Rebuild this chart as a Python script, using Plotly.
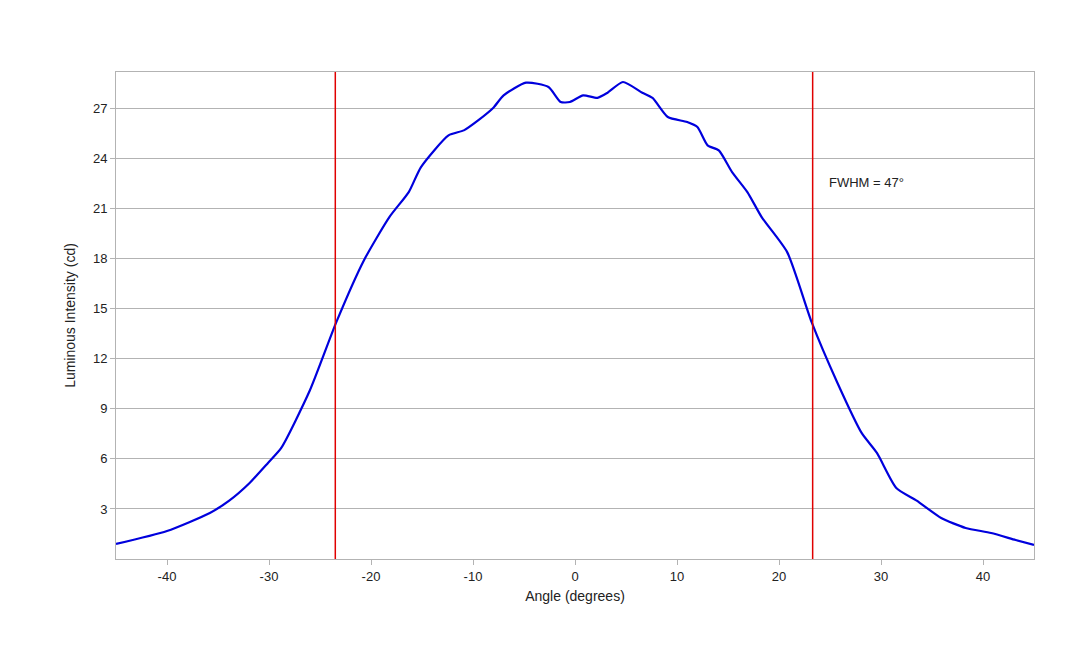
import plotly.graph_objects as go

angle = [-45,-40,-35.8,-33.9,-31.9,-30.1,-28.8,-26,-23.4,-20.7,-18.2,-16.3,-15.1,-12.4,-10.9,-9.5,-8,-7,-4.8,-2.6,-1.4,-0.5,0.8,2.2,3.2,4.7,6.6,7.6,9.1,11,12,13,14.1,15.4,16.9,18.3,20.8,23.2,25.7,28.1,29.6,31.5,33.5,35.9,38.3,40.8,43.2,45]
intensity = [0.9,1.68,2.76,3.5,4.56,5.76,6.66,10.1,14.2,17.9,20.5,22,23.5,25.4,25.7,26.3,27.06,27.8,28.56,28.3,27.4,27.4,27.8,27.65,27.96,28.6,27.96,27.65,26.5,26.2,25.9,24.8,24.5,23.2,22,20.5,18.4,14.2,10.6,7.56,6.36,4.26,3.5,2.46,1.86,1.56,1.14,0.84]
fwhm_lines = [-23.5, 23.3]
xticks = [-40,-30,-20,-10,0,10,20,30,40]
xticklabels = ["-40","-30","-20","-10","0","10","20","30","40"]
yticks = [3,6,9,12,15,18,21,24,27]

fig = go.Figure()
fig.add_trace(go.Scatter(x=angle, y=intensity, mode="lines", line=dict(color="#0000dd", width=2.2, shape="spline", smoothing=0.6), showlegend=False))
for xv in fwhm_lines:
    fig.add_shape(type="line", x0=xv, x1=xv, y0=0, y1=1, yref="paper", line=dict(color="#e00000", width=1.5))
fig.add_annotation(x=24.7, y=22.6, text="FWHM = 47°", showarrow=False, xanchor="left", font=dict(size=13, color="#222"))
fig.update_layout(
    width=1080, height=648, margin=dict(l=108, r=54, t=64, b=97),
    plot_bgcolor="white", paper_bgcolor="white",
    font=dict(family="Liberation Sans, Arial", size=13, color="#222"),
)
fig.update_xaxes(range=[-45,45], tickvals=xticks, ticktext=xticklabels, ticks="outside", ticklen=5, tickcolor="#b3b3b3",
                 showgrid=False, showline=True, linecolor="#b3b3b3", mirror=True, zeroline=False, automargin=False,
                 title=dict(text="Angle (degrees)", standoff=8, font=dict(size=14)))
fig.update_yaxes(range=[0,29.2], tickvals=yticks, ticks="outside", ticklen=5, tickcolor="#b3b3b3",
                 showgrid=True, gridcolor="#b3b3b3", showline=True, linecolor="#b3b3b3", mirror=True, zeroline=False, automargin=False,
                 title=dict(text="Luminous Intensity (cd)", standoff=14, font=dict(size=14)))
fig.write_html("out.html")
